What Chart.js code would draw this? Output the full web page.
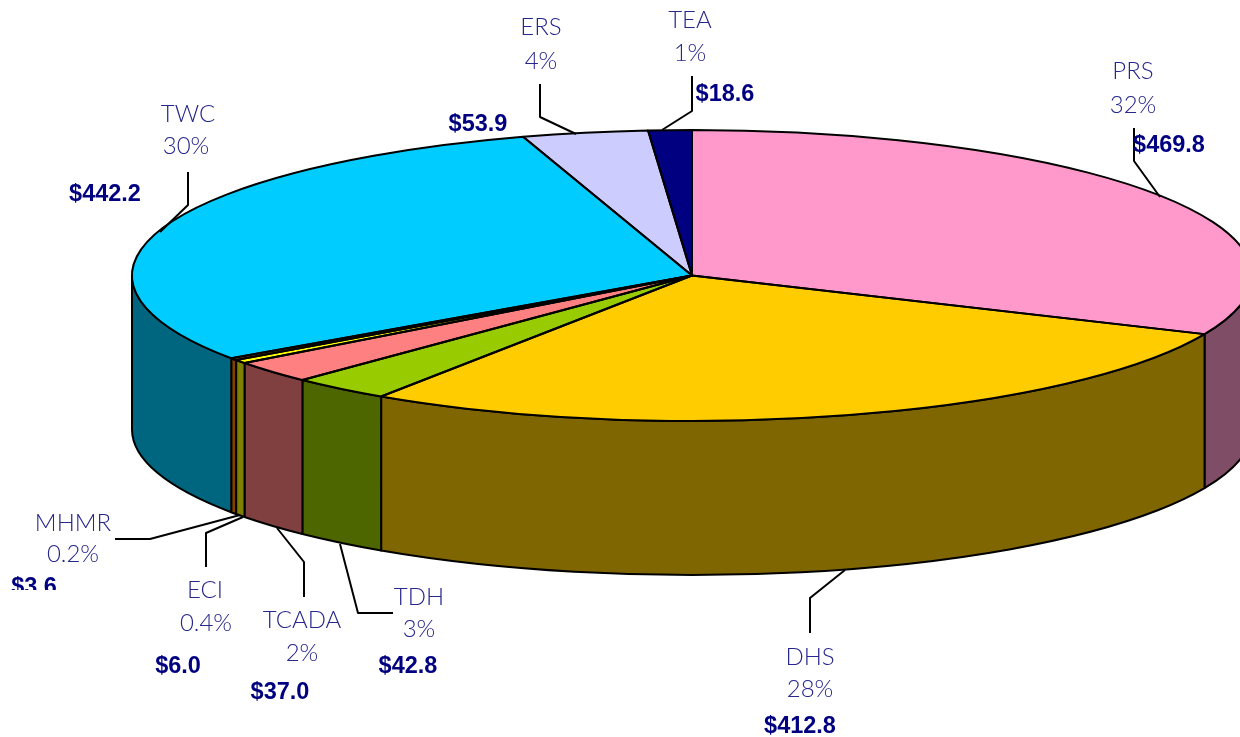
<!DOCTYPE html>
<html>
<head>
<meta charset="utf-8">
<title>Pie</title>
<style>
  html, body { margin: 0; padding: 0; background: #fff; }
  canvas { display: block; }
</style>
<script src="https://cdn.jsdelivr.net/npm/chart.js@4/dist/chart.umd.min.js"></script>
</head>
<body>
<canvas id="pieChart" width="1240" height="737"></canvas>
<script>
const categories = ['PRS', 'DHS', 'TDH', 'TCADA', 'ECI', 'MHMR', 'TWC', 'ERS', 'TEA'];
const amounts = [469.8, 412.8, 42.8, 37.0, 6.0, 3.6, 442.2, 53.9, 18.6];
const percentLabels = ['32%', '28%', '3%', '2%', '0.4%', '0.2%', '30%', '4%', '1%'];
const amountLabels = ['$469.8', '$412.8', '$42.8', '$37.0', '$6.0', '$3.6', '$442.2', '$53.9', '$18.6'];
const topColors = ['#FF99CC', '#FFCC00', '#99CC00', '#FF8080', '#FFFF00', '#CC6600', '#00CCFF', '#CCCCFF', '#000080'];
const sideColors = ['#804D66', '#806600', '#4D6600', '#804040', '#808000', '#804000', '#006680', '#666680', '#000040'];

// pie is flattened into an ellipse, with a wall under it
const pie = { cx: 692, cy: 275.5, rx: 560, ry: 145.5, depth: 154 };

// [name x, name y, percent x, percent y, amount x, amount y], same order as categories
const labelSpots = [
    [1133, 71, 1133, 105, 1169, 146],
    [810, 657, 810, 689, 800, 727],
    [419, 597, 419, 629, 408, 667],
    [302, 620, 302, 653, 280, 693],
    [205, 590, 206, 623, 178, 667],
    [73, 523, 73, 554, 34, 588],
    [188, 114, 186, 146, 105, 195],
    [541, 27, 541, 61, 478, 125],
    [690, 20, 690, 53, 725, 95]
];
const leaders = [
    [[1134, 128], [1134, 161], [1160, 197]],
    [[810, 633], [810, 598], [845, 570]],
    [[393, 613], [358, 613], [340, 544]],
    [[304, 597], [304, 562], [277, 528]],
    [[206, 567], [206, 533], [243, 517]],
    [[115, 539], [150, 539], [240, 515]],
    [[188, 172], [188, 205], [160, 232]],
    [[540, 84], [540, 117], [576, 134]],
    [[692, 76], [692, 111], [662, 130]]
];

function arcs(chart) {
    return chart.getDatasetMeta(0).data;
}

const flatPie = {
    id: 'flatPie',
    beforeDatasetsDraw(chart) {
        const c = chart.ctx;
        const first = arcs(chart)[0];

        // side wall, only the front half of the ellipse shows
        c.save();
        c.lineWidth = 2;
        c.lineJoin = 'round';
        c.strokeStyle = '#000';
        arcs(chart).forEach((arc, i) => {
            const a0 = Math.max(arc.startAngle, 0);
            const a1 = Math.min(arc.endAngle, Math.PI);
            if (a1 <= a0) return;
            c.beginPath();
            c.ellipse(pie.cx, pie.cy, pie.rx, pie.ry, 0, a0, a1);
            c.ellipse(pie.cx, pie.cy + pie.depth, pie.rx, pie.ry, 0, a1, a0, true);
            c.closePath();
            c.fillStyle = sideColors[i];
            c.fill();
            c.stroke();
        });
        c.restore();

        // squash the library's circle onto the ellipse
        c.save();
        c.translate(pie.cx, pie.cy);
        c.scale(pie.rx / first.outerRadius, pie.ry / first.outerRadius);
        c.translate(-first.x, -first.y);
    },
    afterDatasetsDraw(chart) {
        const c = chart.ctx;
        c.restore();

        // outlines after restore so the line stays 2px all round
        c.save();
        c.lineWidth = 2;
        c.lineJoin = 'round';
        c.strokeStyle = '#000';
        arcs(chart).forEach((arc) => {
            c.beginPath();
            c.moveTo(pie.cx, pie.cy);
            c.ellipse(pie.cx, pie.cy, pie.rx, pie.ry, 0, arc.startAngle, arc.endAngle);
            c.closePath();
            c.stroke();
        });

        leaders.forEach((pts) => {
            c.beginPath();
            pts.forEach((p, i) => (i ? c.lineTo(p[0], p[1]) : c.moveTo(p[0], p[1])));
            c.stroke();
        });

        c.textAlign = 'center';
        c.textBaseline = 'middle';
        categories.forEach((name, i) => {
            const s = labelSpots[i];
            c.font = '300 24px Lato';
            c.fillStyle = '#26268C';
            c.fillText(name, s[0], s[1]);
            c.fillText(percentLabels[i], s[2], s[3]);

            c.save();
            // the $3.6 label is cut off at its lower edge in the original
            if (name === 'MHMR') {
                c.beginPath();
                c.rect(0, 0, 1240, 590);
                c.clip();
            }
            c.font = 'bold 23.5px "Liberation Sans"';
            c.fillStyle = '#000080';
            c.fillText(amountLabels[i], s[4], s[5]);
            c.restore();
        });
        c.restore();
    }
};

const ctx = document.getElementById('pieChart').getContext('2d');
const pieChart = new Chart(ctx, {
    type: 'pie',
    data: {
        labels: categories,
        datasets: [
            { data: amounts, backgroundColor: topColors, borderWidth: 0, clip: false }
        ]
    },
    options: {
        responsive: false,
        animation: false,
        plugins: {
            legend: { display: false },
            tooltip: { enabled: false }
        }
    },
    plugins: [flatPie]
});
</script>
</body>
</html>
